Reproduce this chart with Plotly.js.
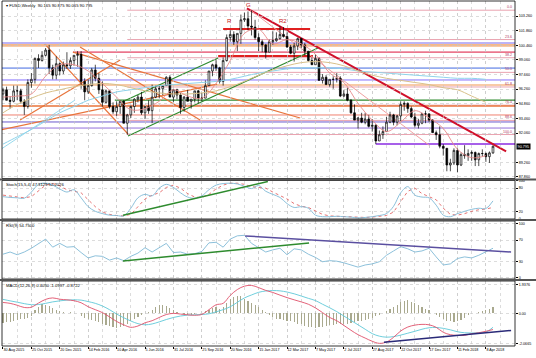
<!DOCTYPE html>
<html><head><meta charset="utf-8">
<script src="https://cdn.plot.ly/plotly-3.0.1.min.js"></script>
<style>html,body{margin:0;padding:0;background:#fff}#c{width:536px;height:358px}</style>
</head><body><div id="c"></div>
<script>
// ---------- DATA ----------
const startDate = '2015-08-30';           // first weekly bar
const open  = [95.8,96.2,95.2,95.1,96.1,96.1,95.1,94.6,96.9,97.2, 99.2,99.0,99.5,100.0,98.3,97.6,98.7,98.0,98.6,98.5, 99.0,99.5,99.6,97.0,96.0,96.6,98.1,97.3,96.2,95.0, 96.1,94.6,94.1,94.6,95.1,93.0,93.8,94.6,95.3,95.5, 94.0,94.6,94.2,95.5,96.3,96.3,96.6,97.4,95.5,96.2, 95.7,94.5,95.5,95.1,95.3,96.1,95.4,95.4,96.6,98.0, 98.6,98.3,97.0,99.0,101.2,101.5,100.8,101.6,102.9,103.0, 102.3,102.2,101.2,100.8,100.5,99.8,100.8,100.9,101.1,101.5, 101.3,100.3,99.7,100.4,101.1,100.5,99.9,99.0,98.6,99.2, 97.1,97.4,96.7,97.2,97.2,97.3,95.6,95.8,95.2,94.0, 93.3,93.5,93.1,93.4,92.7,92.8,91.3,91.9,92.2,93.1, 93.8,93.1,93.7,94.8,94.9,94.4,93.6,92.8,93.0,93.9, 93.9,93.3,92.1,91.9,90.8,90.6,89.0,89.2,90.4,89.0, 90.0,89.9,90.1,90.2,89.5,90.1,90.1,89.8,90.165];
const high  = [96.4,96.5,95.6,96.6,96.6,96.3,95.3,97.2,97.8,99.3, 99.6,99.9,100.2,100.5,98.6,99.4,98.8,98.9,99.8,99.3, 99.5,99.9,99.9,97.3,97.2,98.3,98.6,97.8,97.0,96.2, 96.2,95.0,95.1,95.2,95.2,93.9,94.7,95.4,95.7,96.0, 94.6,95.2,96.7,96.6,96.6,96.5,97.5,97.6,96.3,96.3, 95.9,95.6,96.2,95.3,96.1,96.2,95.9,97.1,98.0,98.7, 99.1,98.4,99.3,101.5,101.9,101.8,101.6,103.4,103.6,103.7, 103.8,102.9,101.6,101.0,100.6,101.0,101.8,101.7,102.3,102.2, 101.7,100.5,100.7,101.2,101.2,100.7,99.9,99.3,99.6,99.3, 97.7,97.6,97.2,97.5,97.8,97.5,96.2,96.4,95.3,94.8, 93.6,94.0,94.0,93.8,93.4,92.9,92.3,92.7,93.6,94.1, 93.9,93.8,95.1,95.1,95.0,94.6,94.0,93.4,94.0,94.2, 93.9,93.4,92.3,92.7,91.0,90.6,89.6,90.6,90.6,90.2, 90.9,90.5,90.4,90.3,90.2,90.5,90.2,90.3,90.875];
const low   = [95.2,95.2,94.4,95.0,95.2,94.9,93.8,94.4,96.4,96.8, 98.3,98.9,99.4,97.7,97.2,97.2,97.6,97.7,98.2,98.2, 98.5,98.4,96.3,95.2,95.8,96.5,97.0,95.8,94.6,94.9, 94.4,93.9,93.7,93.9,93.0,91.9,93.5,94.0,95.0,93.8, 93.4,93.9,93.0,95.4,95.4,95.7,96.6,95.5,95.0,95.3, 93.9,94.1,95.1,94.4,95.0,94.9,95.1,95.4,96.6,97.5, 98.0,96.8,96.6,98.9,100.8,100.5,99.9,100.6,102.7,101.9, 101.4,101.0,99.9,99.8,99.2,99.8,100.5,100.8,101.0,101.2, 100.2,99.6,98.9,100.0,100.2,99.5,98.9,98.6,98.6,97.1, 96.8,96.7,96.5,96.3,96.9,95.5,95.5,95.1,93.9,93.3, 92.5,93.0,92.9,92.6,92.2,91.0,91.3,91.5,92.2,93.0, 92.8,92.8,93.2,94.2,94.0,93.5,92.6,92.5,92.9,93.0, 93.1,92.1,91.4,90.6,89.9,88.4,88.4,89.0,88.3,88.9, 89.6,89.4,89.4,88.9,88.9,89.8,89.3,89.2,90.065];
const close = [96.2,95.2,95.1,96.1,96.1,95.1,94.6,96.9,97.2,99.2, 99.0,99.5,100.0,98.3,97.6,98.7,98.0,98.6,98.5,99.0, 99.5,99.6,97.0,96.0,96.6,98.1,97.3,96.2,95.0,96.1, 94.6,94.1,94.6,95.1,93.0,93.8,94.6,95.3,95.5,94.0, 94.6,94.2,95.5,96.3,96.3,96.6,97.4,95.5,96.2,95.7, 94.5,95.5,95.1,95.3,96.1,95.4,95.4,96.6,98.0,98.6, 98.3,97.0,99.0,101.2,101.5,100.8,101.6,102.9,103.0,102.3, 102.2,101.2,100.8,100.5,99.8,100.8,100.9,101.1,101.5,101.3, 100.3,99.7,100.4,101.1,100.5,99.9,99.0,98.6,99.2,97.1, 97.4,96.7,97.2,97.2,97.3,95.6,95.8,95.2,94.0,93.3, 93.5,93.1,93.4,92.7,92.8,91.3,91.9,92.2,93.1,93.8, 93.1,93.7,94.8,94.9,94.4,93.6,92.8,93.0,93.9,93.9, 93.3,92.1,91.9,90.8,90.6,89.0,89.2,90.4,89.0,90.0, 89.9,90.1,90.2,89.5,90.1,90.1,89.8,90.165,90.795];

// moving averages, read every 4th week
const maSlow = [91.0,91.7,92.4,93.2,94.0,94.6,95.2,95.6,96.0,96.2,96.4,96.6,96.7,96.8,96.9,97.0,97.2,97.5,97.8,98.0,98.2,98.3,98.3,98.3,98.2,98.0,97.9,97.8,97.7,97.6,97.5,97.4,97.3,97.3,97.2];
const maMid  = [94.0,94.8,95.4,95.9,96.2,96.5,96.7,96.8,96.7,96.4,96.1,95.9,95.8,95.8,95.9,96.1,96.5,97.0,97.6,98.1,98.5,98.8,98.9,98.8,98.5,98.0,97.6,97.3,97.1,96.9,96.7,96.4,96.2,95.6,95.0];
const maFast = [95.5,95.6,95.8,97.5,98.6,98.6,98.0,96.8,95.5,94.3,94.4,95.1,96.2,95.6,95.4,96.8,99.0,101.6,102.0,100.6,101.0,100.6,99.6,97.8,96.9,94.9,93.3,92.2,93.1,94.2,93.5,92.5,90.5,89.7,89.9];

// indicators, read every 2nd week
const stochMain = [58,56,55,54,70,90,93,88,78,70,76,55,32,20,14,10,9,8,28,55,64,60,80,90,82,68,57,54,60,76,88,92,93,91,85,79,87,72,64,56,40,30,32,28,10,6,6,7,6,5,3,4,6,9,14,33,68,84,62,57,55,36,10,6,14,20,25,28,27,47];
const stochSig  = [62,60,57,55,58,72,88,92,86,76,72,68,50,32,18,12,9,8,12,32,52,62,68,82,88,80,66,57,56,64,78,88,93,93,90,84,82,80,70,62,52,40,33,30,20,12,8,7,7,6,5,4,5,7,9,18,44,72,80,66,58,50,28,12,10,14,20,24,26,30];
const rsi = [44,48,43,48,55,64,72,57,64,57,58,47,37,41,40,33,37,32,40,46,56,48,56,64,47,48,44,45,49,65,66,57,72,78,79,64,56,48,52,55,43,54,52,44,38,30,32,31,28,24,20,24,26,30,42,50,58,54,48,50,55,39,24,26,36,39,37,42,48,55];
const macdMain = [0.74,0.68,0.55,0.40,0.42,0.70,0.95,1.05,0.96,0.92,0.86,0.72,0.45,0.25,0.05,-0.24,-0.55,-0.78,-0.95,-0.86,-0.64,-0.50,-0.28,-0.08,0.0,-0.05,-0.10,-0.13,-0.07,0.25,0.58,0.68,1.22,1.62,1.85,1.90,1.75,1.56,1.42,1.24,1.07,0.92,0.78,0.62,0.37,0.05,-0.28,-0.50,-0.82,-1.15,-1.45,-1.68,-1.90,-2.04,-1.95,-1.63,-1.20,-0.93,-0.80,-0.75,-0.78,-0.95,-1.29,-1.45,-1.50,-1.50,-1.38,-1.32,-1.22,-1.10];
const macdSig  = [0.95,0.85,0.76,0.66,0.59,0.60,0.68,0.78,0.85,0.90,0.92,0.90,0.80,0.68,0.50,0.25,-0.05,-0.30,-0.52,-0.70,-0.78,-0.72,-0.58,-0.42,-0.28,-0.18,-0.12,-0.10,-0.08,-0.03,0.10,0.25,0.45,0.75,1.05,1.25,1.43,1.52,1.55,1.53,1.45,1.33,1.18,1.02,0.87,0.62,0.38,0.12,-0.18,-0.48,-0.78,-1.08,-1.38,-1.55,-1.62,-1.58,-1.48,-1.35,-1.22,-1.08,-0.98,-0.96,-1.02,-1.12,-1.25,-1.32,-1.34,-1.32,-1.28,-0.95];
const macdHist = [-0.65,-0.6,-0.58, -0.5,-0.45,-0.4,-0.35,-0.3,-0.15, 0.2,0.45,0.65,0.6,0.5, 0.35,0.22,0.15, 0.1,0.05,0.08,0.05,0.02,-0.15, -0.3,-0.4,-0.45,-0.5, -0.6,-0.7,-0.8,-0.85,-0.95,-1.0,-0.9,-0.85, -0.7,-0.55,-0.4,-0.25, -0.1,0.05,0.1, 0.25,0.4,0.55,0.6,0.5,0.35, 0.2,0.1,0.05,-0.05,-0.1,-0.08,-0.05,0.02,0.05, 0.15,0.25,0.35,0.4,0.3,0.45,0.7, 0.95,1.1,1.2,1.15,1.0,0.85,0.7, 0.55,0.4,0.25,0.1,-0.1, -0.25,-0.35,-0.4,-0.45,-0.5, -0.55,-0.6,-0.7,-0.75,-0.85,-0.9,-0.95,-1.0,-0.95,-0.9,-0.85,-0.8,-0.8, -0.75,-0.75,-0.7,-0.7,-0.65,-0.6,-0.55,-0.5,-0.45,-0.4,-0.3,-0.2,-0.1, 0.05,0.15,0.3,0.45,0.6, 0.75,0.85,0.88,0.8,0.7,0.55,0.4, 0.3,0.2,0.05,-0.1, -0.25,-0.4,-0.5,-0.55,-0.6,-0.55,-0.45,-0.3, -0.1,0.0,0.05,0.1,0.15, 0.25,0.3,0.405];

// axis tick labels
const dateTickWeeks = [0,8,16,24,32,40,48,56,64,72,80,88,96,104,112,120,128,136];
const mainTicks = [103.26,101.86,100.46,99.06,97.66,96.26,94.86,93.46,92.06,89.26,87.86];
const stochTicks = [100,80,20,0];
const rsiTicks = [100,70,30,0];
const macdTicks = [1.9376,0,-2.0665];
const macdTickText = ['1.9376','0.00','-2.0665'];
const lastPrice = 90.795;

// Fibonacci retracement (May 2016 low -> Jan 2017 high)
const fibLabels = ['0.0','23.6','38.2','50.0','61.8','76.4','88.6','100.0'];
const fibPrices = [103.82,101.01,99.27,97.87,96.47,94.73,93.27,91.92];
const fibStartWeek = 35;

// horizontal levels: price, first week, last week
const levelPrice = [100.68,100.45,99.81,98.28,97.14,96.66,95.22,94.65,93.79,93.12,92.54,91.01,102.02,99.43];
const levelStart = [-2,-2,19.7,-2,-2,-2,31.5,-2,-2,-2,-2,105,62,60.6];
const levelEnd   = [160,160,160,160,160,160,160,160,160,160,160,160,86.5,87.3];

// trend lines (week index, price)
const trendW0 = [11.8,19.7,21.7,-0.9,4.8,-0.9,35.2,33.5,68.7,69.6];
const trendP0 = [100.58,99.81,100.29,92.35,93.31,90.44,91.78,95.03,104.0,103.85];
const trendW1 = [35.2,83.7,55.5,60.3,33.0,20.3,88.7,60.6,141.7,120.0];
const trendP1 = [91.97,93.50,93.31,96.75,99.05,95.22,100.2,99.24,90.3,90.9];
// indicator trend lines
const stochTrend = {w0:33.8,v0:10,w1:74.6,v1:97.5};
const rsiTrendUp = {w0:33.8,v0:31.5,w1:86.2,v1:64.8};
const rsiTrendDn = {w0:68.2,v0:77.8,w1:143.1,v1:48.1};
const macdTrend  = {w0:107.3,v0:-1.97,w1:143.1,v1:-1.16};

// wave labels
const waveText = ['R','G','R2'];
const waveWeek = [63.9,69.2,78.9];
const wavePrice = [102.75,104.35,102.75];

// ---------- STYLE ----------
const levelColor = ['#7b68ee','#f6b98a','#dc143c','#4169e1','#8470ff','#f6b98a','#2e8b2e','#e8743b','#f08070','#6a5acd','#9370db','#8a2be2','#e02020','#e02020'];
const levelWidth = [1,2.6,1,1,1,1.6,1.2,1.6,1,1,1,1.3,2,2];
const trendColor = ['#e8743b','#e8743b','#e8743b','#e8743b','#e8743b','#7fd0e8','#2e8b2e','#2e8b2e','#d0102a','#f0a0a0'];
const trendWidth = [1.2,1.2,1.2,1.2,1.2,0.8,1.2,1.2,2,1];

const DAY = 864e5;
const T0 = Date.parse(startDate + 'T00:00:00Z');
function wk(i){ return new Date(T0 + i*7*DAY).toISOString().slice(0,19).replace('T',' '); }
const dates = open.map((_, i) => wk(i));
const dates2 = stochMain.map((_, k) => wk(2*k));
const dates4 = maSlow.map((_, k) => wk(4*k));

const F = 'Liberation Sans, Arial, sans-serif';
const traces = [];
traces.push({type:'scatter',mode:'lines',x:dates4,y:maSlow,line:{color:'#8fd3ea',width:1,shape:'spline'},xaxis:'x',yaxis:'y',hoverinfo:'skip'});
traces.push({type:'scatter',mode:'lines',x:dates4,y:maMid,line:{color:'#d8c08a',width:1,shape:'spline'},xaxis:'x',yaxis:'y',hoverinfo:'skip'});
traces.push({type:'scatter',mode:'lines',x:dates4,y:maFast,line:{color:'#e88a8a',width:0.9,shape:'spline'},xaxis:'x',yaxis:'y',hoverinfo:'skip'});
traces.push({type:'candlestick',x:dates,open:open,high:high,low:low,close:close,xaxis:'x',yaxis:'y',
  increasing:{line:{color:'#000',width:0.7},fillcolor:'#ffffff'},
  decreasing:{line:{color:'#000',width:0.7},fillcolor:'#000000'},whiskerwidth:0,hoverinfo:'skip'});
traces.push({type:'scatter',mode:'lines',x:dates2,y:stochSig,line:{color:'#e05050',width:0.8,dash:'dot'},xaxis:'x',yaxis:'y2',hoverinfo:'skip'});
traces.push({type:'scatter',mode:'lines',x:dates2,y:stochMain,line:{color:'#7fb9d6',width:0.9,shape:'spline'},xaxis:'x',yaxis:'y2',hoverinfo:'skip'});
traces.push({type:'scatter',mode:'lines',x:dates2,y:rsi,line:{color:'#7fb9d6',width:0.9},xaxis:'x',yaxis:'y3',hoverinfo:'skip'});
traces.push({type:'bar',x:dates,y:macdHist,width:2.3*DAY,marker:{color:'#a9a98e',line:{width:0}},xaxis:'x',yaxis:'y4',hoverinfo:'skip'});
traces.push({type:'scatter',mode:'lines',x:dates2,y:macdSig,line:{color:'#5fc8d8',width:0.9,shape:'spline'},xaxis:'x',yaxis:'y4',hoverinfo:'skip'});
traces.push({type:'scatter',mode:'lines',x:dates2,y:macdMain,line:{color:'#e0506a',width:0.9,shape:'spline'},xaxis:'x',yaxis:'y4',hoverinfo:'skip'});

const shapes = [];
fibPrices.forEach(p => shapes.push({type:'line',xref:'x',yref:'y',x0:wk(fibStartWeek),x1:wk(160),y0:p,y1:p,line:{color:'#e9a3b0',width:1},layer:'below'}));
levelPrice.forEach((p,i) => shapes.push({type:'line',xref:'x',yref:'y',x0:wk(levelStart[i]),x1:wk(levelEnd[i]),y0:p,y1:p,line:{color:levelColor[i],width:levelWidth[i]},layer:'below'}));
trendW0.forEach((w,i) => shapes.push({type:'line',xref:'x',yref:'y',x0:wk(w),x1:wk(trendW1[i]),y0:trendP0[i],y1:trendP1[i],line:{color:trendColor[i],width:trendWidth[i]},layer:'below'}));
function tl(t,ya,color){ shapes.push({type:'line',xref:'x',yref:ya,x0:wk(t.w0),x1:wk(t.w1),y0:t.v0,y1:t.v1,line:{color:color,width:1.5}}); }
tl(stochTrend,'y2','#2e8b2e');
tl(rsiTrendUp,'y3','#2e8b2e');
tl(rsiTrendDn,'y3','#5a4fa0');
tl(macdTrend,'y4','#2a2a78');

const H = 345, BOT = 346;
function py(Y){ return (BOT - Y)/H; }
const dMain=[py(178.5),1], dSto=[py(219),py(180.5)], dRsi=[py(279),py(221)], dMacd=[0,py(281)];
[dMain,dSto,dRsi,dMacd].forEach(d => shapes.push({type:'rect',xref:'paper',yref:'paper',x0:0,x1:1,y0:d[0],y1:d[1],line:{color:'#000',width:0.8},fillcolor:'rgba(0,0,0,0)',layer:'above'}));
[179.6,220,280].forEach(Y => shapes.push({type:'line',xref:'paper',yref:'paper',x0:-0.01,x1:1.05,y0:py(Y),y1:py(Y),line:{color:'#555',width:2},layer:'above'}));

const annotations = [];
fibLabels.forEach((t,i) => annotations.push({xref:'paper',yref:'y',x:0.996,y:fibPrices[i],xanchor:'right',yanchor:'bottom',text:t,showarrow:false,font:{family:F,size:3.6,color:'#b04060'},borderpad:0}));
waveText.forEach((t,i) => annotations.push({xref:'x',yref:'y',x:wk(waveWeek[i]),y:wavePrice[i],text:t,showarrow:false,font:{family:F,size:6,color:'#c81818'},borderpad:0}));
annotations.push({xref:'paper',yref:'y',x:1.002,y:lastPrice,xanchor:'left',text:lastPrice.toFixed(3),showarrow:false,bgcolor:'#000',font:{family:F,size:3.8,color:'#fff'},borderpad:0.6});
function hdr(txt,d){ annotations.push({xref:'paper',yref:'paper',x:0.006,y:d,xanchor:'left',yanchor:'top',yshift:-1,text:txt,showarrow:false,font:{family:F,size:4.2,color:'#000'},borderpad:0}); }
hdr('\u25BE FUSD,Weekly  90.165 90.875 90.065 90.795', 1);
hdr('Stoch(15,5,4) 47.3129 52.2026', dSto[1]);
hdr('RSI(9) 54.7500', dRsi[1]);
hdr('MACD(12,26,9) 0.4050 -1.0997 -0.8722', dMacd[1]);

const grid = {showgrid:true,gridcolor:'#c4c4c4',griddash:'dot',gridwidth:0.6};
function yax(dom,range,vals,txt,fmt){
  const a = Object.assign({domain:dom,range:range,side:'right',anchor:'x',tickvals:vals,tickfont:{family:F,size:3.7,color:'#000'},
    ticks:'outside',ticklen:2,tickcolor:'#000',showline:false,zeroline:false,fixedrange:true},grid);
  if (txt) a.ticktext = txt; if (fmt) a.tickformat = fmt; return a;
}
const layout = {
  width:536,height:358,margin:{l:2,r:21,t:1,b:12},
  paper_bgcolor:'#fff',plot_bgcolor:'#fff',showlegend:false,bargap:0,
  font:{family:F,size:4,color:'#000'},
  xaxis:Object.assign({type:'date',anchor:'y4',range:[wk(-0.28),wk(144.2)],rangeslider:{visible:false},
    tickmode:'array',tickvals:dateTickWeeks.map(wk),tickformat:'%-d %b %Y',ticklabelposition:'outside right',tickangle:0,automargin:false,
    tickfont:{family:F,size:3.7,color:'#000'},ticks:'outside',ticklen:2,tickcolor:'#000',
    minor:{tickmode:'linear',tick0:startDate,dtick:4*7*DAY,showgrid:true,gridcolor:'#c4c4c4',griddash:'dot',gridwidth:0.6},
    showline:false,zeroline:false,fixedrange:true},grid),
  yaxis:yax(dMain,[87.71,104.70],mainTicks,null,'.3f'),
  yaxis2:yax(dSto,[0,100],stochTicks),
  yaxis3:yax(dRsi,[-2,105.5],rsiTicks),
  yaxis4:yax(dMacd,[-2.22,2.2],macdTicks,macdTickText),
  shapes:shapes,annotations:annotations
};
Plotly.newPlot('c',traces,layout,{staticPlot:true,displayModeBar:false});
</script></body></html>
